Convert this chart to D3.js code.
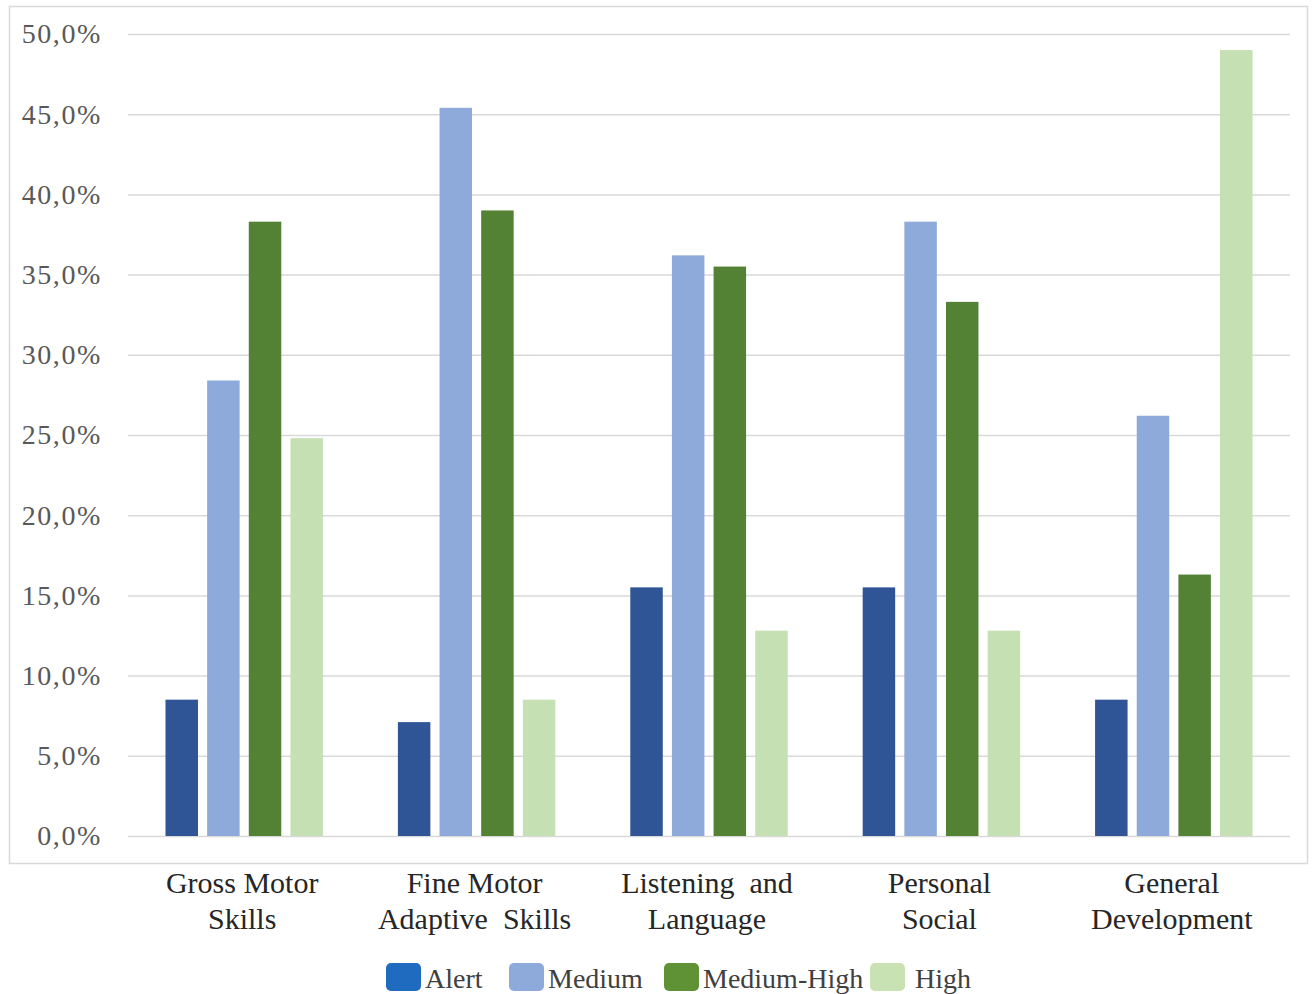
<!DOCTYPE html>
<html>
<head>
<meta charset="utf-8">
<script src="https://cdn.jsdelivr.net/npm/d3@7/dist/d3.min.js"></script>
<style>
  html, body { margin: 0; padding: 0; background: #ffffff; }
  svg { display: block; }
</style>
</head>
<body>
<svg id="chart" width="1313" height="994"></svg>
<script>
// ---- data ----
const categories = [
  ["Gross Motor", "Skills"],
  ["Fine Motor", "Adaptive  Skills"],
  ["Listening  and", "Language"],
  ["Personal", "Social"],
  ["General", "Development"]
];
const categoryKeys = ["Gross Motor Skills", "Fine Motor Adaptive Skills", "Listening and Language", "Personal Social", "General Development"];
const seriesNames = ["Alert", "Medium", "Medium-High", "High"];
const alertValues = [8.5, 7.1, 15.5, 15.5, 8.5];
const mediumValues = [28.4, 45.4, 36.2, 38.3, 26.2];
const mediumHighValues = [38.3, 39.0, 35.5, 33.3, 16.3];
const highValues = [24.8, 8.5, 12.8, 12.8, 49.0];
const yTicks = [0, 5, 10, 15, 20, 25, 30, 35, 40, 45, 50];

const seriesValues = [alertValues, mediumValues, mediumHighValues, highValues];
const barColors = ["#2f5597", "#8eaadb", "#548235", "#c5e0b3"];
const legendColors = ["#1f6bc0", "#8eaadb", "#5f9234", "#c9e2b3"];

// ---- layout ----
const svg = d3.select("#chart");
const plot = { left: 128, right: 1290, top: 34, bottom: 836 };

// outer border
svg.append("rect")
  .attr("x", 9.5).attr("y", 6.5)
  .attr("width", 1298).attr("height", 857)
  .attr("fill", "#ffffff")
  .attr("stroke", "#d9d9d9")
  .attr("stroke-width", 1.5);

const y = d3.scaleLinear().domain([0, 50]).range([plot.bottom, plot.top]);
const x0 = d3.scaleBand().domain(categoryKeys).range([plot.left, plot.right]).paddingInner(0).paddingOuter(0);
const x1 = d3.scaleBand().domain(seriesNames).range([0, x0.bandwidth()]).paddingInner(0.22).paddingOuter(0.9);

// gridlines + tick labels via axis
const yAxis = d3.axisLeft(y)
  .tickValues(yTicks)
  .tickSize(-(plot.right - plot.left))
  .tickPadding(26)
  .tickFormat(d => d.toFixed(1).replace(".", ",") + "%");

const gy = svg.append("g")
  .attr("transform", `translate(${plot.left},0)`)
  .call(yAxis);
gy.select(".domain").remove();
gy.selectAll(".tick line").attr("stroke", "#d9d9d9").attr("stroke-width", 1.5);
gy.selectAll(".tick text")
  .attr("font-family", "'Liberation Serif', 'Times New Roman', serif")
  .attr("font-size", 28)
  .attr("letter-spacing", 1.6)
  .attr("fill", "#595959");

// bars
const groups = svg.append("g").selectAll("g")
  .data(categoryKeys)
  .join("g")
  .attr("transform", d => `translate(${x0(d)},0)`);

groups.selectAll("rect")
  .data((d, i) => seriesNames.map((s, j) => ({ s, j, v: seriesValues[j][i] })))
  .join("rect")
  .attr("x", d => x1(d.s))
  .attr("width", x1.bandwidth())
  .attr("y", d => y(d.v))
  .attr("height", d => y(0) - y(d.v))
  .attr("fill", d => barColors[d.j]);

// category labels
const xLab = svg.append("g");
categoryKeys.forEach((k, i) => {
  const cx = x0(k) + x0.bandwidth() / 2 - 2;
  const t = xLab.append("text")
    .attr("x", cx)
    .attr("y", 893)
    .attr("text-anchor", "middle")
    .attr("font-family", "'Liberation Serif', 'Times New Roman', serif")
    .attr("font-size", 30)
    .attr("fill", "#262626")
    .style("white-space", "pre");
  t.append("tspan").attr("x", cx).attr("dy", 0).text(categories[i][0]);
  t.append("tspan").attr("x", cx).attr("dy", 36).text(categories[i][1]);
});

// legend
const legendX = [386, 509, 664, 870];
const legendTextGap = [39, 39, 39, 45];
const lg = svg.append("g");
seriesNames.forEach((s, j) => {
  lg.append("rect")
    .attr("x", legendX[j]).attr("y", 963)
    .attr("width", 35).attr("height", 28)
    .attr("rx", 5).attr("ry", 5)
    .attr("fill", legendColors[j]);
  lg.append("text")
    .attr("x", legendX[j] + legendTextGap[j])
    .attr("y", 988)
    .attr("font-family", "'Liberation Serif', 'Times New Roman', serif")
    .attr("font-size", 28)
    .attr("fill", "#404040")
    .text(s);
});
</script>
</body>
</html>
